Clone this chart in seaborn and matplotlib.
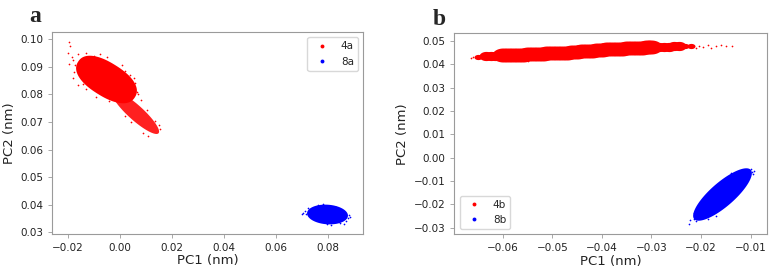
"""PCA projections of the 4/8 trajectories: panel a (4a vs 8a) and panel b (4b vs 8b)."""

import numpy as np
import matplotlib
matplotlib.use("Agg")
import matplotlib.pyplot as plt
from matplotlib.lines import Line2D
from matplotlib.markers import MarkerStyle
from matplotlib.path import Path
from matplotlib.transforms import Affine2D
import seaborn as sns

RED = "#ff0000"
BLUE = "#0000ff"

# ---- panel a, 4a cloud (centres of the dense parts)
red_a_body_x = [-0.0054]
red_a_body_y = [0.0856]
red_a_tail_x = [0.0058]
red_a_tail_y = [0.0736]

# 4a sparse outliers
red_a_spread_x = [-0.0195, -0.0190, -0.0200, -0.0185, -0.0178, -0.0160, -0.0130, -0.0100,
                  -0.0075, -0.0040, 0.0020, 0.0040, 0.0060, 0.0065, -0.0180, -0.0160,
                  -0.0130, -0.0090, -0.0040, 0.0150, 0.0140, 0.0110, 0.0080, 0.0105,
                  0.0020, 0.0135, 0.0045, -0.0170, 0.0072, 0.0012, -0.0175, -0.0140,
                  -0.0050, 0.0010, 0.0055, 0.0155, 0.0090, -0.0110, -0.0195, 0.0030]
red_a_spread_y = [0.0988, 0.0975, 0.0950, 0.0935, 0.0925, 0.0945, 0.0950, 0.0940,
                  0.0945, 0.0915, 0.0885, 0.0870, 0.0840, 0.0810, 0.0860, 0.0835,
                  0.0820, 0.0790, 0.0775, 0.0690, 0.0665, 0.0650, 0.0780, 0.0745,
                  0.0720, 0.0705, 0.0700, 0.0905, 0.0800, 0.0770, 0.0880, 0.0838,
                  0.0935, 0.0905, 0.0860, 0.0675, 0.0660, 0.0825, 0.0910, 0.0760]

# ---- panel a, 8a cloud
blue_a_body_x = [0.0796]
blue_a_body_y = [0.0366]

blue_a_spread_x = [0.0705, 0.0712, 0.0715, 0.0880, 0.0878, 0.0868, 0.0860, 0.0810,
                   0.0780, 0.0760, 0.0830, 0.0725, 0.0845, 0.0700, 0.0885, 0.0795]
blue_a_spread_y = [0.0372, 0.0378, 0.0365, 0.0362, 0.0352, 0.0340, 0.0332, 0.0327,
                   0.0403, 0.0398, 0.0393, 0.0390, 0.0335, 0.0368, 0.0356, 0.0329]

# ---- panel b, 4b band (centre line read every 0.001 nm)
red_b_big_x = [-0.060, -0.059, -0.058, -0.057, -0.056, -0.055, -0.054, -0.053,
               -0.052, -0.051, -0.050, -0.049, -0.048, -0.047, -0.046, -0.045,
               -0.044, -0.043, -0.042, -0.041, -0.040, -0.039, -0.038, -0.037,
               -0.036, -0.035, -0.034, -0.033, -0.032, -0.031, -0.030]
red_b_big_y = [0.0438, 0.0439, 0.0440, 0.0440, 0.0441, 0.0442, 0.0443, 0.0444,
               0.0445, 0.0446, 0.0447, 0.0448, 0.0449, 0.0450, 0.0452, 0.0453,
               0.0455, 0.0456, 0.0458, 0.0460, 0.0462, 0.0463, 0.0464, 0.0466,
               0.0467, 0.0468, 0.0469, 0.0470, 0.0471, 0.0472, 0.0473]
red_b_small_x = [-0.0635, -0.0625, -0.0615, -0.0285, -0.0275, -0.0265, -0.0255, -0.0245]
red_b_small_y = [0.0434, 0.0435, 0.0437, 0.0474, 0.0475, 0.0475, 0.0476, 0.0477]
red_b_tiny_x = [-0.0650, -0.0232, -0.0220]
red_b_tiny_y = [0.0431, 0.0477, 0.0478]

red_b_spread_x = [-0.0665, -0.0660, -0.0652, -0.0205, -0.0195, -0.0185, -0.0170, -0.0160,
                  -0.0150, -0.0138, -0.0210, -0.0550, -0.0450, -0.0300, -0.0600, -0.0350,
                  -0.0250, -0.0180, -0.0640, -0.0500, -0.0400, -0.0270]
red_b_spread_y = [0.0428, 0.0432, 0.0425, 0.0478, 0.0474, 0.0481, 0.0477, 0.0483,
                  0.0479, 0.0476, 0.0470, 0.0414, 0.0478, 0.0488, 0.0420, 0.0450,
                  0.0486, 0.0470, 0.0445, 0.0425, 0.0485, 0.0465]

# ---- panel b, 8b cloud
blue_b_body_x = [-0.0158]
blue_b_body_y = [-0.0157]

blue_b_spread_x = [-0.0222, -0.0215, -0.0100, -0.0098, -0.0095, -0.0215, -0.0120, -0.0185,
                   -0.0210, -0.0105, -0.0170, -0.0140, -0.0225, -0.0092, -0.0200, -0.0125]
blue_b_spread_y = [-0.0268, -0.0262, -0.0050, -0.0062, -0.0072, -0.0235, -0.0055, -0.0262,
                   -0.0270, -0.0085, -0.0250, -0.0065, -0.0282, -0.0058, -0.0215, -0.0150]

PX = 100 / 72  # pixels per point


def blob_marker(a, b, angle=0.0, n=2.0):
    """Superellipse marker with semi-axes a, b (pixels), returns (marker, s)."""
    t = np.linspace(0, 2 * np.pi, 120)
    c, s = np.cos(t), np.sin(t)
    xs = np.sign(c) * np.abs(c) ** (2 / n)
    ys = (b / a) * np.sign(s) * np.abs(s) ** (2 / n)
    marker = MarkerStyle(Path(np.column_stack([xs, ys]), closed=True),
                         transform=Affine2D().rotate_deg(angle))
    return marker, (2 * a / PX) ** 2


def cloud(ax, xs, ys, color, size, marker="o"):
    sns.scatterplot(x=xs, y=ys, color=color, s=size, marker=marker,
                    linewidth=0, ax=ax, legend=False)


def blob(ax, xs, ys, color, a, b, angle, n=2.0):
    m, s = blob_marker(a, b, angle, n)
    cloud(ax, xs, ys, color, s, m)


def style_axes(ax):
    for sp in ax.spines.values():
        sp.set_color("#9a9a9a")
        sp.set_linewidth(0.8)
    ax.tick_params(labelsize=7.5, length=3, width=0.6, color="#9a9a9a", labelcolor="#222222")
    ax.set_xlabel("PC1 (nm)", fontsize=9.5, color="#222222", labelpad=1)
    ax.set_ylabel("PC2 (nm)", fontsize=9.5, color="#222222", labelpad=3)


def legend(ax, labels, loc):
    handles = [Line2D([], [], ls="", marker="o", ms=2.8, mec="none", mfc=c)
               for c in (RED, BLUE)]
    ax.legend(handles, labels, loc=loc, fontsize=7.5, frameon=True,
              edgecolor="#d8d8d8", framealpha=1.0)


sns.set_style("ticks")
plt.rcParams["font.family"] = ["DejaVu Sans"]

fig = plt.figure(figsize=(7.78, 2.69), dpi=100)
ax_a = fig.add_axes([0.0668, 0.130, 0.400, 0.751])
ax_b = fig.add_axes([0.584, 0.129, 0.402, 0.747])

# panel a
cloud(ax_a, red_a_spread_x, red_a_spread_y, RED, 1.5)
blob(ax_a, red_a_tail_x, red_a_tail_y, "#ff2020", 31, 7.5, -42)
blob(ax_a, red_a_body_x, red_a_body_y, RED, 33.5, 16.8, -32, n=2.3)
cloud(ax_a, blue_a_spread_x, blue_a_spread_y, BLUE, 1.5)
blob(ax_a, blue_a_body_x, blue_a_body_y, BLUE, 20.5, 9.8, -4)
ax_a.set_xlim(-0.026, 0.0935)
ax_a.set_ylim(0.0294, 0.1026)
ax_a.set_xticks([-0.02, 0.00, 0.02, 0.04, 0.06, 0.08])
ax_a.set_yticks([0.03, 0.04, 0.05, 0.06, 0.07, 0.08, 0.09, 0.10])
ax_a.set_xticklabels(["\u22120.02", "0.00", "0.02", "0.04", "0.06", "0.08"])
ax_a.set_yticklabels(["0.03", "0.04", "0.05", "0.06", "0.07", "0.08", "0.09", "0.10"])
style_axes(ax_a)
legend(ax_a, ["4a", "8a"], "upper right")

# panel b
band_big, s_big = blob_marker(11, 7.0)
band_small, s_small = blob_marker(7, 4.6)
band_tiny, s_tiny = blob_marker(4, 2.6)
cloud(ax_b, red_b_spread_x, red_b_spread_y, RED, 1.5)
cloud(ax_b, red_b_tiny_x, red_b_tiny_y, RED, s_tiny, band_tiny)
cloud(ax_b, red_b_small_x, red_b_small_y, RED, s_small, band_small)
cloud(ax_b, red_b_big_x, red_b_big_y, RED, s_big, band_big)
cloud(ax_b, blue_b_spread_x, blue_b_spread_y, BLUE, 1.5)
blob(ax_b, blue_b_body_x, blue_b_body_y, BLUE, 37.5, 12, 41)
ax_b.set_xlim(-0.0698, -0.00665)
ax_b.set_ylim(-0.0328, 0.0532)
ax_b.set_xticks([-0.06, -0.05, -0.04, -0.03, -0.02, -0.01])
ax_b.set_xticklabels(["\u22120.06", "\u22120.05", "\u22120.04", "\u22120.03", "\u22120.02", "\u22120.01"])
yt = [-0.03, -0.02, -0.01, 0.00, 0.01, 0.02, 0.03, 0.04, 0.05]
ax_b.set_yticks(yt)
ax_b.set_yticklabels([f"{v:.2f}".replace("-", "\u2212") for v in yt])
style_axes(ax_b)
legend(ax_b, ["4b", "8b"], "lower left")

fig.text(0.038, 0.917, "a", fontsize=17, fontweight="bold", family="Liberation Serif")
fig.text(0.556, 0.908, "b", fontsize=17, fontweight="bold", family="Liberation Serif")

fig.savefig("out.png", dpi=100)
